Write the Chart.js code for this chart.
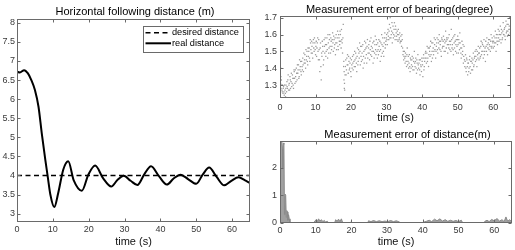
<!DOCTYPE html>
<html><head><meta charset="utf-8">
<script src="https://cdn.jsdelivr.net/npm/chart.js@4.4.1/dist/chart.umd.min.js"></script>
<style>
html,body{margin:0;padding:0;background:#fff;width:515px;height:250px;overflow:hidden}
canvas{position:absolute;display:block}
</style></head><body>
<canvas id="cL" width="258" height="250" style="left:0;top:0"></canvas>
<canvas id="cTR" width="257" height="125" style="left:258px;top:0"></canvas>
<canvas id="cBR" width="257" height="125" style="left:258px;top:125px"></canvas>
<script>
// ---------- data ----------
const distTime = [0, 0.8, 2.0, 3.0, 4.0, 5.0, 6.0, 6.9, 7.9, 8.6, 9.3, 10.4, 11.5, 12.9, 14.3, 15.8, 18.1, 19.9, 21.8, 24.0, 26.3, 28.0, 29.8, 31.7, 33.6, 35.5, 37.4, 39.6, 41.8, 43.7, 45.6, 47.8, 50.0, 51.8, 53.6, 55.7, 57.8, 59.8, 61.8, 63.5, 65];
const realDistance = [6.72, 6.70, 6.76, 6.68, 6.50, 6.24, 5.80, 5.11, 4.41, 3.95, 3.50, 3.17, 3.54, 4.15, 4.37, 3.88, 3.60, 4.02, 4.26, 3.93, 3.71, 3.88, 3.99, 3.86, 3.75, 4.03, 4.24, 3.98, 3.76, 3.92, 4.02, 3.90, 3.78, 4.02, 4.21, 3.96, 3.74, 3.86, 3.95, 3.88, 3.80];
const desiredTime = [0, 65];
const desiredDistance = [4, 4];
const leftXTicks = [0, 10, 20, 30, 40, 50, 60];
const leftYTicks = [3, 3.5, 4, 4.5, 5, 5.5, 6, 6.5, 7, 7.5, 8];

const bearingPoints = [
[0.05,1.44],[0.1,1.36],[0.15,1.31],[0.2,1.4],[0.3,1.28],[0.4,1.33],[0.55,1.27],[0.7,1.3],[0.85,1.25],
[1.0,1.29],[1.2,1.24],[1.4,1.27],[1.55,1.23],[1.7,1.3],[1.85,1.26],
[2.0,1.29],[2.2,1.33],[2.4,1.27],[2.6,1.31],[2.8,1.35],[2.95,1.28],
[3.1,1.32],[3.3,1.29],[3.5,1.36],[3.7,1.3],[3.85,1.34],
[4.0,1.38],[4.2,1.31],[4.4,1.35],[4.6,1.4],[4.8,1.33],
[5.0,1.37],[5.2,1.42],[5.4,1.35],[5.6,1.39],[5.8,1.44],
[6.0,1.36],[6.2,1.41],[6.4,1.46],[6.6,1.38],[6.8,1.43],
[7.0,1.48],[7.2,1.4],[7.4,1.45],[7.6,1.5],[7.8,1.42],
[8.0,1.47],[8.2,1.52],[8.4,1.44],[8.6,1.55],[8.8,1.49],
[9.0,1.53],[9.2,1.46],[9.4,1.57],[9.6,1.5],[9.8,1.55],
[10.0,1.48],[10.2,1.56],[10.4,1.52],[10.6,1.58],[10.8,1.45],
[11.0,1.51],[11.2,1.38],[11.4,1.55],[11.6,1.33],[11.8,1.47],
[12.0,1.53],[12.2,1.42],[12.4,1.57],[12.6,1.49],[12.8,1.54],
[13.0,1.5],[13.2,1.58],[13.4,1.46],[13.6,1.55],[13.8,1.52],
[14.0,1.6],[14.2,1.49],[14.4,1.56],[14.6,1.53],[14.8,1.61],
[15.0,1.5],[15.2,1.57],[15.4,1.54],[15.6,1.48],[15.8,1.6],
[16.0,1.55],[16.2,1.62],[16.4,1.51],[16.6,1.58],[16.8,1.54],
[17.0,1.6],[17.2,1.52],[17.4,1.57],[17.6,1.49],[17.8,1.66],[17.9,1.41],
[18.0,1.33],[18.1,1.28],[18.2,1.27],[18.3,1.36],[18.5,1.45],[18.7,1.39],[18.9,1.42],
[19.0,1.48],[19.2,1.37],[19.4,1.44],[19.6,1.4],[19.8,1.46],
[20.0,1.35],[20.2,1.42],[20.4,1.47],[20.6,1.39],[20.8,1.44],
[21.0,1.5],[21.2,1.41],[21.4,1.46],[21.6,1.38],[21.8,1.52],
[22.0,1.44],[22.2,1.49],[22.4,1.55],[22.6,1.42],[22.8,1.47],
[23.0,1.53],[23.2,1.45],[23.4,1.4],[23.6,1.5],[23.8,1.56],
[24.0,1.46],[24.2,1.52],[24.4,1.43],[24.6,1.57],[24.8,1.49],
[25.0,1.54],[25.2,1.45],[25.4,1.51],[25.6,1.58],[25.8,1.47],
[26.0,1.52],[26.2,1.43],[26.4,1.56],[26.6,1.49],[26.8,1.59],
[27.0,1.48],[27.2,1.54],[27.4,1.46],[27.6,1.51],[27.8,1.57],
[28.0,1.5],[28.2,1.44],[28.4,1.55],[28.6,1.6],[28.8,1.49],
[29.0,1.53],[29.2,1.47],[29.4,1.58],[29.6,1.52],[29.8,1.56],
[30.0,1.6],[30.2,1.54],[30.4,1.63],[30.6,1.57],[30.8,1.66],
[31.0,1.7],[31.2,1.58],[31.4,1.62],[31.6,1.55],[31.8,1.65],
[32.0,1.6],[32.2,1.67],[32.4,1.57],[32.6,1.63],[32.8,1.59],
[33.0,1.62],[33.2,1.56],[33.4,1.6],[33.6,1.58],[33.8,1.55],
[34.0,1.59],[34.2,1.53],[34.4,1.57],[34.6,1.48],[34.8,1.45],
[35.0,1.5],[35.2,1.43],[35.4,1.47],[35.6,1.41],[35.8,1.52],
[36.0,1.44],[36.2,1.4],[36.4,1.48],[36.6,1.38],[36.8,1.45],
[37.0,1.42],[37.2,1.47],[37.4,1.39],[37.6,1.44],[37.8,1.5],
[38.0,1.41],[38.2,1.46],[38.4,1.37],[38.6,1.43],[38.8,1.48],
[39.0,1.4],[39.2,1.45],[39.4,1.36],[39.6,1.42],[39.8,1.38],
[40.0,1.44],[40.2,1.35],[40.4,1.48],[40.6,1.41],[40.8,1.46],
[41.0,1.5],[41.2,1.43],[41.4,1.53],[41.6,1.46],[41.8,1.41],
[42.0,1.52],[42.2,1.47],[42.4,1.56],[42.6,1.44],[42.8,1.5],
[43.0,1.55],[43.2,1.48],[43.4,1.58],[43.6,1.51],[43.8,1.46],
[44.0,1.53],[44.2,1.58],[44.4,1.49],[44.6,1.55],[44.8,1.6],
[45.0,1.51],[45.2,1.56],[45.4,1.47],[45.6,1.57],[45.8,1.53],
[46.0,1.59],[46.2,1.5],[46.4,1.55],[46.6,1.62],[46.8,1.52],
[47.0,1.57],[47.2,1.49],[47.4,1.54],[47.6,1.6],[47.8,1.51],
[48.0,1.56],[48.2,1.63],[48.4,1.52],[48.6,1.58],[48.8,1.48],
[49.0,1.55],[49.2,1.6],[49.4,1.5],[49.6,1.57],[49.8,1.53],
[50.0,1.59],[50.2,1.49],[50.4,1.55],[50.6,1.61],[50.8,1.52],
[51.0,1.46],[51.2,1.56],[51.4,1.5],[51.6,1.43],[51.8,1.53],
[52.0,1.41],[52.2,1.48],[52.4,1.38],[52.6,1.45],[52.8,1.36],
[53.0,1.43],[53.2,1.4],[53.4,1.47],[53.6,1.37],[53.8,1.44],
[54.0,1.46],[54.2,1.39],[54.4,1.49],[54.6,1.42],[54.8,1.47],
[55.0,1.44],[55.2,1.51],[55.4,1.41],[55.6,1.48],[55.8,1.53],
[56.0,1.45],[56.2,1.52],[56.4,1.47],[56.6,1.56],[56.8,1.5],
[57.0,1.54],[57.2,1.46],[57.4,1.57],[57.6,1.5],[57.8,1.44],
[58.0,1.53],[58.2,1.58],[58.4,1.48],[58.6,1.55],[58.8,1.51],
[59.0,1.57],[59.2,1.5],[59.4,1.6],[59.6,1.53],[59.8,1.56],
[60.0,1.52],[60.2,1.59],[60.4,1.55],[60.6,1.62],[60.8,1.5],
[61.0,1.58],[61.2,1.54],[61.4,1.63],[61.6,1.56],[61.8,1.6],
[62.0,1.65],[62.2,1.55],[62.4,1.61],[62.6,1.58],[62.8,1.67],
[63.0,1.6],[63.2,1.64],[63.4,1.57],[63.6,1.68],[63.8,1.62],
[64.0,1.59],[64.2,1.66],[64.4,1.63],[64.6,1.7],[64.8,1.61],
[0.02,1.38],[0.08,1.42],[0.12,1.33],[0.25,1.35],[0.45,1.3],[0.65,1.26],[0.9,1.28],
[1.1,1.26],[1.3,1.3],[1.5,1.25],[1.65,1.28],[1.95,1.32],
[2.1,1.28],[2.3,1.36],[2.5,1.3],[2.7,1.27],[2.9,1.33],
[3.2,1.37],[3.4,1.31],[3.6,1.34],[3.8,1.28],[3.95,1.39],
[4.1,1.34],[4.3,1.39],[4.5,1.32],[4.7,1.37],[4.9,1.42],
[5.1,1.39],[5.3,1.34],[5.5,1.45],[5.7,1.41],[5.9,1.38],
[6.1,1.44],[6.3,1.39],[6.5,1.42],[6.7,1.49],[6.9,1.45],
[7.1,1.43],[7.3,1.51],[7.5,1.47],[7.7,1.44],[7.9,1.52],
[8.1,1.5],[8.3,1.46],[8.5,1.57],[8.7,1.51],[8.9,1.56],
[9.1,1.49],[9.3,1.55],[9.5,1.52],[9.7,1.58],[9.9,1.51],
[10.1,1.53],[10.3,1.47],[10.5,1.55],[10.7,1.5],[10.9,1.57],
[11.1,1.45],[11.3,1.52],[11.5,1.41],[11.7,1.49],[11.9,1.56],
[12.1,1.5],[12.3,1.45],[12.5,1.53],[12.7,1.58],[12.9,1.47],
[13.1,1.54],[13.3,1.51],[13.5,1.6],[13.7,1.49],[13.9,1.57],
[14.1,1.53],[14.3,1.58],[14.5,1.51],[14.7,1.57],[14.9,1.55],
[15.1,1.59],[15.3,1.52],[15.5,1.58],[15.7,1.55],[15.9,1.51],
[16.1,1.58],[16.3,1.53],[16.5,1.6],[16.7,1.56],[16.9,1.62],
[17.1,1.56],[17.3,1.63],[17.5,1.55],[17.7,1.58],[17.95,1.44],
[18.05,1.38],[18.15,1.31],[18.4,1.41],[18.6,1.36],[18.8,1.46],
[19.1,1.42],[19.3,1.47],[19.5,1.39],[19.7,1.43],[19.9,1.38],
[20.1,1.45],[20.3,1.4],[20.5,1.43],[20.7,1.48],[20.9,1.41],
[21.1,1.45],[21.3,1.49],[21.5,1.43],[21.7,1.47],[21.9,1.42],
[22.1,1.51],[22.3,1.46],[22.5,1.5],[22.7,1.53],[22.9,1.44],
[23.1,1.49],[23.3,1.54],[23.5,1.47],[23.7,1.43],[23.9,1.51],
[24.1,1.55],[24.3,1.48],[24.5,1.53],[24.7,1.46],[24.9,1.52],
[25.1,1.49],[25.3,1.56],[25.5,1.48],[25.7,1.53],[25.9,1.5],
[26.1,1.55],[26.3,1.5],[26.5,1.46],[26.7,1.54],[26.9,1.51],
[27.1,1.57],[27.3,1.5],[27.5,1.55],[27.7,1.48],[27.9,1.53],
[28.1,1.56],[28.3,1.51],[28.5,1.47],[28.7,1.54],[28.9,1.58],
[29.1,1.5],[29.3,1.55],[29.5,1.61],[29.7,1.54],[29.9,1.58],
[30.1,1.57],[30.3,1.61],[30.5,1.59],[30.7,1.62],[30.9,1.58],
[31.1,1.64],[31.3,1.6],[31.5,1.67],[31.7,1.61],[31.9,1.58],
[32.1,1.63],[32.3,1.59],[32.5,1.65],[32.7,1.61],[32.9,1.57],
[33.1,1.6],[33.3,1.63],[33.5,1.57],[33.7,1.61],[33.9,1.56],
[34.1,1.56],[34.3,1.6],[34.5,1.52],[34.7,1.5],[34.9,1.47],
[35.1,1.46],[35.3,1.49],[35.5,1.44],[35.7,1.48],[35.9,1.42],
[36.1,1.47],[36.3,1.43],[36.5,1.41],[36.7,1.46],[36.9,1.4],
[37.1,1.45],[37.3,1.41],[37.5,1.46],[37.7,1.39],[37.9,1.43],
[38.1,1.44],[38.3,1.4],[38.5,1.45],[38.7,1.39],[38.9,1.42],
[39.1,1.43],[39.3,1.39],[39.5,1.45],[39.7,1.41],[39.9,1.46],
[40.1,1.42],[40.3,1.46],[40.5,1.39],[40.7,1.44],[40.9,1.49],
[41.1,1.46],[41.3,1.49],[41.5,1.44],[41.7,1.52],[41.9,1.48],
[42.1,1.5],[42.3,1.53],[42.5,1.48],[42.7,1.55],[42.9,1.46],
[43.1,1.52],[43.3,1.5],[43.5,1.54],[43.7,1.57],[43.9,1.5],
[44.1,1.55],[44.3,1.51],[44.5,1.57],[44.7,1.52],[44.9,1.56],
[45.1,1.54],[45.3,1.5],[45.5,1.58],[45.7,1.52],[45.9,1.56],
[46.1,1.53],[46.3,1.57],[46.5,1.5],[46.7,1.56],[46.9,1.58],
[47.1,1.54],[47.3,1.58],[47.5,1.52],[47.7,1.56],[47.9,1.54],
[48.1,1.5],[48.3,1.57],[48.5,1.54],[48.7,1.51],[48.9,1.59],
[49.1,1.52],[49.3,1.56],[49.5,1.54],[49.7,1.49],[49.9,1.57],
[50.1,1.54],[50.3,1.57],[50.5,1.51],[50.7,1.55],[50.9,1.49],
[51.1,1.52],[51.3,1.48],[51.5,1.54],[51.7,1.47],[51.9,1.45],
[52.1,1.44],[52.3,1.4],[52.5,1.46],[52.7,1.41],[52.9,1.43],
[53.1,1.38],[53.3,1.45],[53.5,1.41],[53.7,1.44],[53.9,1.39],
[54.1,1.43],[54.3,1.45],[54.5,1.41],[54.7,1.46],[54.9,1.5],
[55.1,1.47],[55.3,1.45],[55.5,1.5],[55.7,1.46],[55.9,1.49],
[56.1,1.49],[56.3,1.46],[56.5,1.53],[56.7,1.48],[56.9,1.55],
[57.1,1.5],[57.3,1.53],[57.5,1.48],[57.7,1.52],[57.9,1.56],
[58.1,1.5],[58.3,1.54],[58.5,1.52],[58.7,1.57],[58.9,1.54],
[59.1,1.53],[59.3,1.56],[59.5,1.52],[59.7,1.58],[59.9,1.55],
[60.1,1.56],[60.3,1.53],[60.5,1.58],[60.7,1.55],[60.9,1.6],
[61.1,1.56],[61.3,1.6],[61.5,1.58],[61.7,1.62],[61.9,1.57],
[62.1,1.6],[62.3,1.63],[62.5,1.57],[62.7,1.62],[62.9,1.6],
[63.1,1.63],[63.3,1.59],[63.5,1.65],[63.7,1.61],[63.9,1.66],
[64.1,1.62],[64.3,1.6],[64.5,1.65],[64.7,1.63],[64.9,1.67]
];
const rightXTicks = [0, 10, 20, 30, 40, 50, 60];
const bearingYTicks = [1.3, 1.4, 1.5, 1.6, 1.7];

const distErrTime = [0, 0.05, 0.2, 0.5, 0.7, 0.8, 0.9, 1.1, 1.25, 1.4, 1.6, 1.75, 1.9, 2.1, 2.2, 2.4, 2.6, 2.8,
  9.5, 9.8, 10.2, 10.5, 10.8, 11.2, 11.6, 12.0, 12.4, 12.8, 13.3, 13.6,
  15.3, 15.6, 16.0, 16.4, 16.8, 17.2, 17.6,
  19.8, 20.0, 20.2,
  24.6, 24.8, 25.5, 26.2, 27.0, 27.8, 28.6, 29.4, 30.2, 31.0, 31.8, 32.6, 33.4, 33.8,
  40.0, 40.4, 41.0, 41.8, 42.5, 43.3, 44.0, 44.8, 45.5, 46.3, 47.0, 47.8, 48.5, 49.3, 50.0, 50.8, 51.2,
  57.0, 57.4, 58.0, 58.6, 59.3, 60.0, 60.8, 61.5, 62.2, 62.8, 63.3, 63.8, 64.3, 64.8, 65.0];
const distErrValue = [0, 2.0, 2.9, 2.95, 2.7, 2.0, 2.9, 2.85, 0.3, 1.05, 1.0, 0.2, 0.45, 0.4, 0.1, 0.3, 0.15, 0,
  0, 0.08, 0.12, 0.06, 0.15, 0.07, 0.12, 0.05, 0.09, 0.04, 0.06, 0,
  0, 0.12, 0.06, 0.14, 0.05, 0.15, 0,
  0, 0.06, 0,
  0, 0.08, 0.05, 0.09, 0.05, 0.08, 0.05, 0.07, 0.05, 0.09, 0.05, 0.08, 0.04, 0,
  0, 0.04, 0.06, 0.1, 0.05, 0.14, 0.08, 0.15, 0.07, 0.12, 0.06, 0.1, 0.06, 0.09, 0.05, 0.1, 0,
  0, 0.06, 0.1, 0.05, 0.13, 0.08, 0.16, 0.07, 0.12, 0.05, 0.22, 0.06, 0.12, 0.07, 0.1];
const distErrYTicks = [0, 1, 2];

// ---------- styling ----------
const FONT = '"Liberation Sans", Arial, Helvetica, sans-serif';
const TICK_COLOR = '#3a3a3a';
const AXIS_COLOR = '#6a6a6a';
const TL = 3;

const matlabAxes = {
  id: 'matlabAxes',
  afterDraw(chart, args, opts) {
    const {ctx, chartArea: a} = chart;
    const xs = chart.scales.x, ys = chart.scales.y;
    const L = Math.round(a.left) + 0.5, R = Math.round(a.right) - 0.5;
    const T = Math.round(a.top) + 0.5, B = Math.round(a.bottom) - 0.5;
    ctx.save();
    ctx.strokeStyle = AXIS_COLOR; ctx.lineWidth = 1; ctx.setLineDash([]);
    ctx.beginPath();
    xs.ticks.forEach(t => {
      const p = Math.round(xs.getPixelForValue(t.value)) + 0.5;
      ctx.moveTo(p, B); ctx.lineTo(p, B - TL);
      ctx.moveTo(p, T); ctx.lineTo(p, T + TL);
    });
    ys.ticks.forEach(t => {
      const p = Math.round(ys.getPixelForValue(t.value)) + 0.5;
      ctx.moveTo(L, p); ctx.lineTo(L + TL, p);
      ctx.moveTo(R, p); ctx.lineTo(R - TL, p);
    });
    ctx.stroke();
    ctx.strokeRect(L, T, R - L, B - T);
    if (opts.legend) {
      const lg = opts.legend;
      ctx.fillStyle = '#fff';
      ctx.fillRect(lg.x, lg.y, lg.w, lg.h);
      ctx.strokeStyle = AXIS_COLOR; ctx.lineWidth = 1;
      ctx.strokeRect(lg.x + 0.5, lg.y + 0.5, lg.w, lg.h);
      ctx.font = lg.fontSize + 'px ' + FONT;
      ctx.textAlign = 'left'; ctx.textBaseline = 'middle';
      chart.data.datasets.forEach((ds, i) => {
        const yy = lg.y + lg.first + i * lg.rowH;
        ctx.save();
        ctx.strokeStyle = ds.borderColor; ctx.lineWidth = ds.borderWidth;
        ctx.setLineDash(ds.borderDash || []);
        ctx.beginPath(); ctx.moveTo(lg.x + 2.5, yy); ctx.lineTo(lg.x + 28, yy); ctx.stroke();
        ctx.restore();
        ctx.fillStyle = '#000';
        ctx.fillText(ds.label, lg.x + 29, yy);
      });
    }
    if (opts.title) {
      ctx.font = '11px ' + FONT; ctx.fillStyle = '#000';
      ctx.textAlign = 'center'; ctx.textBaseline = 'middle';
      ctx.fillText(opts.title, (a.left + a.right) / 2 + opts.titleDx, opts.titleY);
    }
    ctx.restore();
  }
};

function xScale(ticks, height, pad, titlePadBottom) {
  return {
    type: 'linear', min: 0, max: 65,
    afterBuildTicks: s => { s.ticks = ticks.map(v => ({value: v})); },
    afterFit: s => { s.height = height; },
    grid: {display: false, drawTicks: false},
    border: {display: false},
    ticks: {color: TICK_COLOR, font: {family: FONT, size: 9}, padding: pad, maxRotation: 0, autoSkip: false,
            callback: v => String(v)},
    title: {display: true, text: 'time (s)', color: '#111', font: {family: FONT, size: 11},
            padding: {top: 0, bottom: titlePadBottom}}
  };
}
function yScale(ticks, min, max, width, pad) {
  return {
    type: 'linear', min: min, max: max,
    afterBuildTicks: s => { s.ticks = ticks.map(v => ({value: v})); },
    afterFit: s => { s.width = width; },
    grid: {display: false, drawTicks: false},
    border: {display: false},
    ticks: {color: TICK_COLOR, font: {family: FONT, size: 9}, padding: pad, autoSkip: false,
            callback: v => String(v)}
  };
}

Chart.defaults.font.family = FONT;

// ---------- left chart ----------
new Chart(document.getElementById('cL'), {
  type: 'line',
  data: {
    datasets: [
      {label: 'desired distance', data: desiredTime.map((t, i) => ({x: t, y: desiredDistance[i]})),
       borderColor: '#000', borderWidth: 1.5, borderDash: [5, 3.5], pointRadius: 0, fill: false},
      {label: 'real distance', data: distTime.map((t, i) => ({x: t, y: realDistance[i]})),
       borderColor: '#000', borderWidth: 2, pointRadius: 0, cubicInterpolationMode: 'monotone', fill: false}
    ]
  },
  options: {
    responsive: false, animation: false, devicePixelRatio: 1,
    layout: {padding: {top: 19, right: 8, left: 0, bottom: 0}},
    scales: {x: xScale(leftXTicks, 28, 2, 1.4), y: yScale(leftYTicks, 2.78, 8.1, 17, 2)},
    plugins: {
      legend: {display: false}, tooltip: {enabled: false},
      matlabAxes: {title: 'Horizontal following distance (m)', titleDx: 1.5, titleY: 11.5,
        legend: {x: 143, y: 26, w: 100, h: 26, first: 6.7, rowH: 10.6, fontSize: 9.2}}
    }
  },
  plugins: [matlabAxes]
});

// ---------- top right ----------
new Chart(document.getElementById('cTR'), {
  type: 'scatter',
  data: {datasets: [{label: 'bearing error', data: bearingPoints.map(p => ({x: p[0], y: p[1]})),
    pointRadius: 0.9, pointBorderWidth: 0, pointBackgroundColor: '#9a9a9a', pointStyle: 'rect'}]},
  options: {
    responsive: false, animation: false, devicePixelRatio: 1,
    layout: {padding: {top: 16, right: 3, left: 0, bottom: 0}},
    scales: {x: xScale(rightXTicks, 27, 4, 0), y: yScale(bearingYTicks, 1.223, 1.71, 22, 3)},
    plugins: {legend: {display: false}, tooltip: {enabled: false},
      matlabAxes: {title: 'Measurement error of bearing(degree)', titleDx: 4, titleY: 10}}
  },
  plugins: [matlabAxes]
});

// ---------- bottom right ----------
new Chart(document.getElementById('cBR'), {
  type: 'line',
  data: {datasets: [{label: 'distance error', data: distErrTime.map((t, i) => ({x: t, y: distErrValue[i]})),
    borderColor: '#8a8a8a', borderWidth: 1, backgroundColor: '#a0a0a0', fill: 'origin', pointRadius: 0, tension: 0}]},
  options: {
    responsive: false, animation: false, devicePixelRatio: 1,
    layout: {padding: {top: 16, right: 3, left: 0, bottom: 0}},
    scales: {x: xScale(rightXTicks, 27, 2, 1.4), y: yScale(distErrYTicks, 0, 2.97, 22, 3)},
    plugins: {legend: {display: false}, tooltip: {enabled: false},
      matlabAxes: {title: 'Measurement error of distance(m)', titleDx: 11.5, titleY: 10}}
  },
  plugins: [matlabAxes]
});
</script>
</body></html>
